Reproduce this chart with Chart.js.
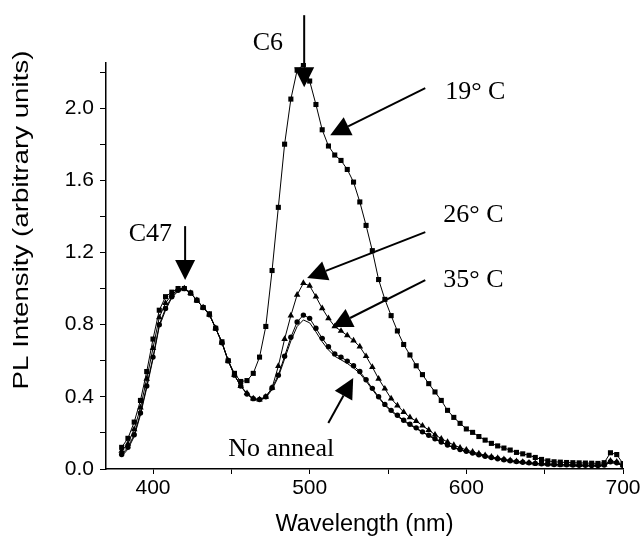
<!DOCTYPE html>
<html>
<head>
<meta charset="utf-8">
<script src="https://cdn.jsdelivr.net/npm/chart.js@4.4.0/dist/chart.umd.min.js"></script>
<style>
  html, body { margin: 0; padding: 0; background: #fff; }
  #wrap { width: 643px; height: 541px; }
</style>
</head>
<body>
<div id="wrap"><canvas id="pl" width="643" height="541"></canvas></div>
<script>
// wavelength (nm), one reading every 4 nm
const wavelength = [
  380, 384, 388, 392, 396, 400, 404, 408, 412, 416,
  420, 424, 428, 432, 436, 440, 444, 448, 452, 456,
  460, 464, 468, 472, 476, 480, 484, 488, 492, 496,
  500, 504, 508, 512, 516, 520, 524, 528, 532, 536,
  540, 544, 548, 552, 556, 560, 564, 568, 572, 576,
  580, 584, 588, 592, 596, 600, 604, 608, 612, 616,
  620, 624, 628, 632, 636, 640, 644, 648, 652, 656,
  660, 664, 668, 672, 676, 680, 684, 688, 692, 696,
  700
];

// 19 C anneal (squares)
const anneal19 = [
  0.12, 0.17, 0.26, 0.38, 0.54, 0.72, 0.88, 0.955, 0.98, 1.0,
  1.0, 0.975, 0.935, 0.895, 0.86, 0.78, 0.705, 0.60, 0.53, 0.485,
  0.49, 0.53, 0.62, 0.79, 1.10, 1.45, 1.80, 2.05, 2.21, 2.24,
  2.15, 2.02, 1.88, 1.79, 1.74, 1.71, 1.66, 1.59, 1.48, 1.35,
  1.21, 1.05, 0.94, 0.85, 0.765, 0.69, 0.632, 0.572, 0.523, 0.473,
  0.427, 0.38, 0.325, 0.286, 0.253, 0.222, 0.203, 0.18, 0.16, 0.142,
  0.128, 0.116, 0.105, 0.092, 0.084, 0.076, 0.064, 0.053, 0.045, 0.04,
  0.038, 0.036, 0.035, 0.034, 0.033, 0.032, 0.031, 0.035, 0.09, 0.08,
  0.03
];

// 26 C anneal (triangles)
const anneal26 = [
  0.10, 0.14, 0.22, 0.34, 0.50, 0.67, 0.84, 0.92, 0.965, 0.995,
  1.0, 0.975, 0.935, 0.895, 0.855, 0.78, 0.70, 0.60, 0.52, 0.46,
  0.42, 0.39, 0.385, 0.40, 0.45, 0.57, 0.72, 0.85, 0.965, 1.03,
  1.015, 0.955, 0.89, 0.835, 0.79, 0.765, 0.74, 0.712, 0.678, 0.625,
  0.565, 0.50, 0.445, 0.39, 0.352, 0.316, 0.286, 0.266, 0.24, 0.216,
  0.19, 0.168, 0.15, 0.133, 0.118, 0.106, 0.095, 0.085, 0.076, 0.068,
  0.06, 0.054, 0.048, 0.043, 0.039, 0.035, 0.032, 0.03, 0.028, 0.026,
  0.025, 0.024, 0.023, 0.022, 0.022, 0.021, 0.021, 0.024, 0.045, 0.04,
  0.02
];

// 35 C anneal (circles)
const anneal35 = [
  0.08, 0.12, 0.19, 0.31, 0.46, 0.62, 0.80, 0.89, 0.955, 0.99,
  1.0, 0.975, 0.935, 0.895, 0.855, 0.78, 0.70, 0.60, 0.52, 0.46,
  0.415, 0.39, 0.385, 0.40, 0.45, 0.52, 0.625, 0.73, 0.815, 0.853,
  0.835, 0.78, 0.724, 0.678, 0.638, 0.62, 0.598, 0.572, 0.54, 0.495,
  0.447, 0.40, 0.358, 0.325, 0.298, 0.27, 0.248, 0.228, 0.206, 0.187,
  0.168, 0.15, 0.133, 0.12, 0.108, 0.098, 0.088, 0.079, 0.071, 0.064,
  0.057, 0.051, 0.046, 0.041, 0.037, 0.034, 0.031, 0.029, 0.027, 0.025,
  0.024, 0.023, 0.022, 0.021, 0.021, 0.02, 0.02, 0.022, 0.04, 0.035,
  0.02
];

// no anneal (plain line)
const noAnneal = [
  0.07, 0.11, 0.18, 0.30, 0.45, 0.61, 0.79, 0.88, 0.95, 0.985,
  1.0, 0.975, 0.935, 0.895, 0.855, 0.78, 0.70, 0.60, 0.52, 0.46,
  0.415, 0.385, 0.38, 0.395, 0.44, 0.51, 0.61, 0.71, 0.79, 0.826,
  0.81, 0.76, 0.705, 0.66, 0.625, 0.605, 0.585, 0.56, 0.53, 0.487,
  0.44, 0.395, 0.353, 0.32, 0.293, 0.266, 0.244, 0.224, 0.203, 0.184,
  0.165, 0.148, 0.131, 0.118, 0.106, 0.096, 0.086, 0.077, 0.069, 0.062,
  0.055, 0.049, 0.044, 0.039, 0.035, 0.032, 0.029, 0.027, 0.025, 0.023,
  0.022, 0.021, 0.02, 0.019, 0.019, 0.018, 0.018, 0.02, 0.035, 0.03,
  0.018
];

const xTicks = [400, 450, 500, 550, 600, 650, 700];
const xLabelled = [400, 500, 600, 700];
const yTicks = [0, 0.2, 0.4, 0.6, 0.8, 1.0, 1.2, 1.4, 1.6, 1.8, 2.0, 2.2];
const yLabelled = [0, 0.4, 0.8, 1.2, 1.6, 2.0];
const yTitle = 'PL Intensity (arbitrary units)';

// callouts, in data units (nm, intensity)
const notes = [
  { text: 'C6', x: 483, y: 2.36, align: 'right' },
  { text: '19\u00b0 C', x: 586.5, y: 2.09, align: 'left' },
  { text: '26\u00b0 C', x: 585.3, y: 1.405, align: 'left' },
  { text: '35\u00b0 C', x: 585.3, y: 1.045, align: 'left' },
  { text: 'C47', x: 412.2, y: 1.30, align: 'right' },
  { text: 'No anneal', x: 448, y: 0.11, align: 'left' }
];
const arrows = [
  { from: [496.5, 2.515], to: [496.5, 2.116] },
  { from: [573.8, 2.111], to: [513.1, 1.850] },
  { from: [573.8, 1.313], to: [498.4, 1.058] },
  { from: [573.8, 1.047], to: [514.4, 0.787] },
  { from: [420.5, 1.346], to: [420.5, 1.047] },
  { from: [511.9, 0.255], to: [527.8, 0.504] }
];

function pairs(ys) {
  return wavelength.map((w, i) => ({ x: w, y: ys[i] }));
}

const calloutPlugin = {
  id: 'callouts',
  afterDraw(chart) {
    const ctx = chart.ctx;
    const xs = chart.scales.x, ys = chart.scales.y;
    ctx.save();
    ctx.fillStyle = '#000';
    ctx.strokeStyle = '#000';

    // y title, drawn by hand: the original lettering is stretched along the axis
    ctx.save();
    ctx.font = '22px "Liberation Sans", Arial, sans-serif';
    ctx.textAlign = 'center';
    ctx.textBaseline = 'middle';
    ctx.translate(22, ys.getPixelForValue(1.38));
    ctx.rotate(-Math.PI / 2);
    ctx.scale(1.26, 1);
    ctx.fillText(yTitle, 0, 0);
    ctx.restore();

    ctx.font = '26px "Liberation Serif", "Times New Roman", serif';
    ctx.textBaseline = 'middle';
    notes.forEach(n => {
      ctx.textAlign = n.align;
      ctx.fillText(n.text, xs.getPixelForValue(n.x), ys.getPixelForValue(n.y));
    });
    ctx.lineWidth = 2;
    arrows.forEach(a => {
      const x0 = xs.getPixelForValue(a.from[0]), y0 = ys.getPixelForValue(a.from[1]);
      const x1 = xs.getPixelForValue(a.to[0]), y1 = ys.getPixelForValue(a.to[1]);
      const ang = Math.atan2(y1 - y0, x1 - x0);
      const len = 20, half = 10;
      const bx = x1 - len * Math.cos(ang), by = y1 - len * Math.sin(ang);
      ctx.beginPath();
      ctx.moveTo(x0, y0);
      ctx.lineTo(bx, by);
      ctx.stroke();
      ctx.beginPath();
      ctx.moveTo(x1, y1);
      ctx.lineTo(bx + half * Math.sin(ang), by - half * Math.cos(ang));
      ctx.lineTo(bx - half * Math.sin(ang), by + half * Math.cos(ang));
      ctx.closePath();
      ctx.fill();
    });
    ctx.restore();
  }
};

const axisFont = { family: '"Liberation Sans", Arial, sans-serif', size: 23.5 };
const tickFont = { family: '"Liberation Sans", Arial, sans-serif', size: 21 };

new Chart(document.getElementById('pl').getContext('2d'), {
  type: 'line',
  data: {
    datasets: [
      { label: 'No anneal', data: pairs(noAnneal), borderColor: '#000', borderWidth: 1, pointRadius: 0 },
      { label: '35\u00b0 C', data: pairs(anneal35), borderColor: '#000', borderWidth: 1,
        pointStyle: 'circle', pointRadius: 2.7, pointBackgroundColor: '#000', pointBorderWidth: 0 },
      { label: '26\u00b0 C', data: pairs(anneal26), borderColor: '#000', borderWidth: 1,
        pointStyle: 'triangle', pointRadius: 3.8, pointBackgroundColor: '#000', pointBorderWidth: 0 },
      { label: '19\u00b0 C', data: pairs(anneal19), borderColor: '#000', borderWidth: 1,
        pointStyle: 'rect', pointRadius: 3.6, pointBackgroundColor: '#000', pointBorderWidth: 0 }
    ]
  },
  options: {
    responsive: false,
    animation: false,
    layout: { padding: { top: 63, right: 20, left: 0, bottom: 0 } },
    plugins: { legend: { display: false }, tooltip: { enabled: false } },
    scales: {
      x: {
        type: 'linear',
        min: 370,
        max: 700,
        afterBuildTicks: s => { s.ticks = xTicks.map(v => ({ value: v })); },
        afterFit: s => { s.height = 72; },
        border: { color: '#000', width: 1.5 },
        grid: { drawOnChartArea: false, drawTicks: true, tickLength: 5, color: '#000' },
        ticks: {
          color: '#000', font: tickFont, padding: 2, maxRotation: 0, autoSkip: false,
          callback: v => xLabelled.includes(v) ? String(v) : ''
        },
        title: { display: true, text: 'Wavelength (nm)', color: '#000', font: axisFont, padding: { top: 0, bottom: 2 } }
      },
      y: {
        min: 0,
        max: 2.25,
        afterBuildTicks: s => { s.ticks = yTicks.map(v => ({ value: v })); },
        afterFit: s => { s.width = 106; },
        border: { color: '#000', width: 1.5 },
        grid: { drawOnChartArea: false, drawTicks: true, tickLength: 6, color: '#000' },
        ticks: {
          color: '#000', font: tickFont, padding: 6, autoSkip: false,
          callback: v => yLabelled.some(m => Math.abs(m - v) < 1e-6) ? v.toFixed(1) : ''
        },
        title: { display: false }
      }
    }
  },
  plugins: [calloutPlugin]
});
</script>
</body>
</html>
